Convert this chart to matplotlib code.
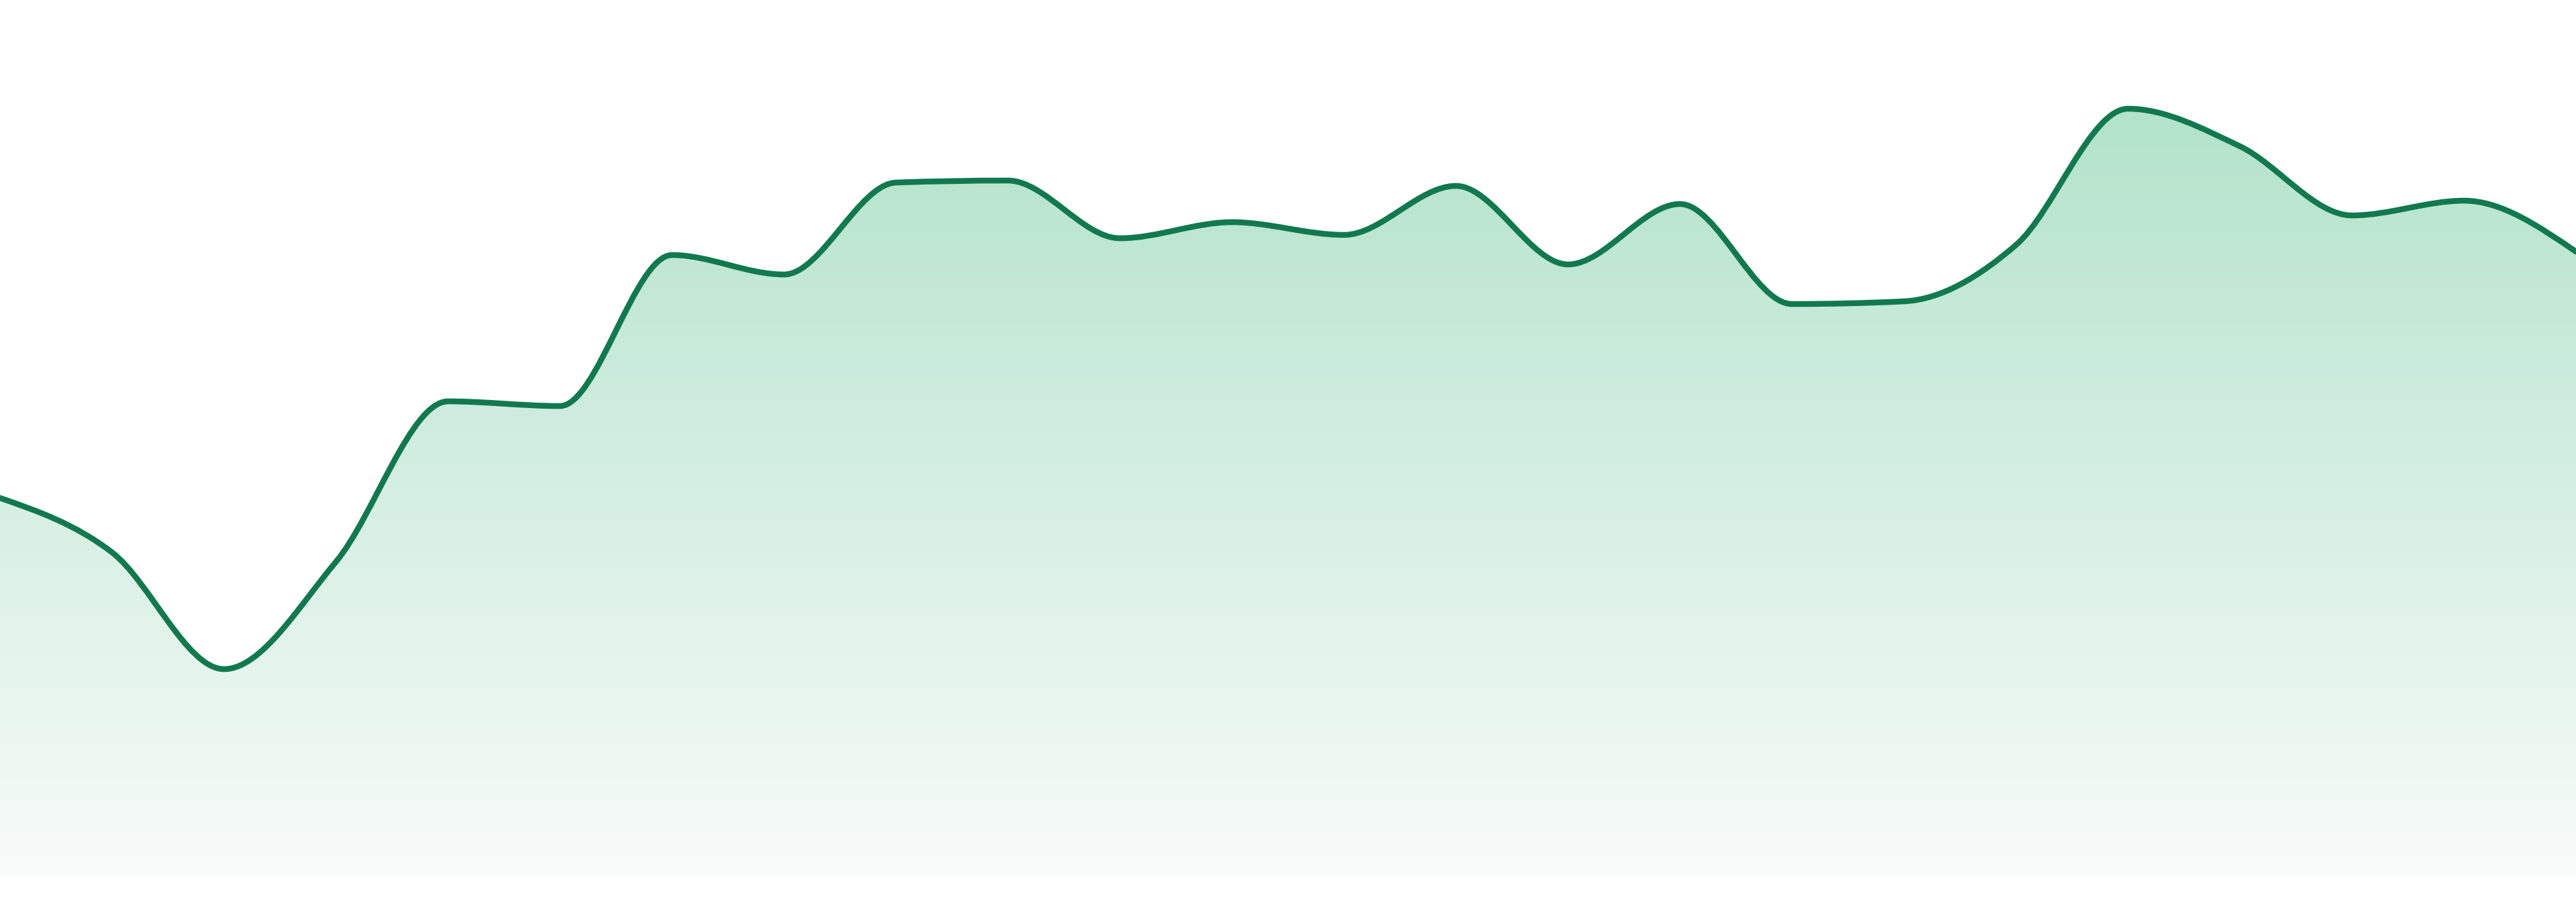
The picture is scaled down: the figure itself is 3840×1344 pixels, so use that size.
import numpy as np
import matplotlib
matplotlib.use("Agg")
import matplotlib.pyplot as plt
from matplotlib.path import Path
from matplotlib.patches import PathPatch
from matplotlib.colors import LinearSegmentedColormap

# values (one per point, evenly spaced)
labels = list(range(24))
values = [56.3, 48.2, 30.8, 46.8, 70.7, 70.0, 92.5, 89.6, 103.3, 103.6, 95.0, 97.4,
          95.5, 102.8, 91.1, 100.1, 85.2, 85.6, 94.0, 114.3, 108.7, 98.4, 100.6, 93.0]

line_color = "#12794f"
fill_top = "#b3e3cb"
fill_bottom = "#f8fbfa"


def monotone_tangents(y):
    # monotone-x cubic, same rule as d3.curveMonotoneX (unit spacing)
    y = np.asarray(y, float)
    s = np.diff(y)
    t = np.zeros_like(y)
    for i in range(1, len(y) - 1):
        p = 0.5 * (s[i - 1] + s[i])
        t[i] = (np.sign(s[i - 1]) + np.sign(s[i])) * min(abs(s[i - 1]), abs(s[i]), 0.5 * abs(p))
    t[0] = (3 * s[0] - t[1]) / 2
    t[-1] = (3 * s[-1] - t[-2]) / 2
    return t


def curve_path(x, y, close_to=None):
    t = monotone_tangents(y)
    verts = [(x[0], y[0])]
    codes = [Path.MOVETO]
    for i in range(len(x) - 1):
        h = x[i + 1] - x[i]
        verts += [(x[i] + h / 3, y[i] + h / 3 * t[i]),
                  (x[i + 1] - h / 3, y[i + 1] - h / 3 * t[i + 1]),
                  (x[i + 1], y[i + 1])]
        codes += [Path.CURVE4] * 3
    if close_to is not None:
        verts += [(x[-1], close_to), (x[0], close_to), (x[0], y[0])]
        codes += [Path.LINETO, Path.LINETO, Path.CLOSEPOLY]
    return Path(verts, codes)


x = np.array(labels, float)
y = np.array(values, float)

fig = plt.figure(figsize=(38.4, 13.44), dpi=100)
ax = fig.add_axes([0, 39 / 1344, 1, 1305 / 1344])
ax.axis("off")

# gradient fill under the curve
area = PathPatch(curve_path(x, y, close_to=0), facecolor="none", edgecolor="none")
ax.add_patch(area)
cmap = LinearSegmentedColormap.from_list("g", [fill_bottom, fill_top])
grad = np.linspace(0, 1, 256).reshape(-1, 1)
img = ax.imshow(grad, cmap=cmap, origin="lower", aspect="auto",
                extent=[x[0], x[-1], 0, y.max()], interpolation="bilinear")
img.set_clip_path(area)
ax.set_xlim(x[0], x[-1])
ax.set_ylim(0, 130.5)

line = PathPatch(curve_path(x, y), facecolor="none", edgecolor=line_color,
                 lw=6.2, capstyle="round", joinstyle="round")
ax.add_patch(line)

fig.savefig("out.png", dpi=100, facecolor="white")
